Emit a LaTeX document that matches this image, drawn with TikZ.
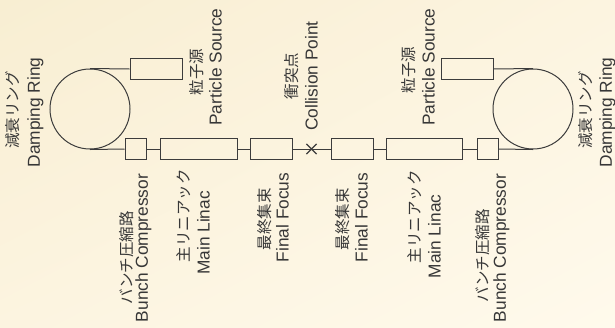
\documentclass[tikz,border=0pt]{standalone}
\usepackage{fontspec}
\setmainfont{Liberation Sans}
\newfontfamily\jpfont{Noto Sans CJK JP}
\usetikzlibrary{shapes.misc,shadings}
\definecolor{bgA}{RGB}{248,238,210}
\definecolor{bgB}{RGB}{252,244,224}
\definecolor{bgC}{RGB}{255,250,236}
\definecolor{linec}{RGB}{60,60,60}
\definecolor{textc}{RGB}{55,55,55}
\tikzset{
  wire/.style={draw=linec, line width=1bp},
  box/.style={draw=linec, line width=1bp, rectangle, inner sep=0pt, minimum height=21bp},
  ring/.style={draw=linec, line width=1bp, circle, inner sep=0pt, minimum size=80bp},
  cpmark/.style={draw=linec, line width=1.2bp, cross out, inner sep=0pt, minimum size=9bp},
  en/.style={rotate=90, inner sep=0pt, text=textc, font=\fontsize{17.3bp}{20bp}\selectfont},
  jp/.style={rotate=90, inner sep=0pt, text=textc, font=\jpfont\fontsize{15.5bp}{18bp}\selectfont}
}
\begin{document}
\begin{tikzpicture}[x=1bp,y=-1bp]
\shade[upper left=bgA, upper right=bgB, lower left=bgB, lower right=bgC] (0,0) rectangle (615,327);
\useasboundingbox (0,0) rectangle (615,327);
% components
\node[ring] (ringL) at (90,109) {};
\node[box, minimum width=52bp] (psL) at (156,69) {};
\node[box, minimum width=21bp] (bcL) at (135.5,149) {};
\node[box, minimum width=77bp] (mlL) at (198.5,149) {};
\node[box, minimum width=42bp] (ffL) at (271,149) {};
\node[cpmark] (cp) at (311.5,149) {};
\node[box, minimum width=42bp] (ffR) at (352,149) {};
\node[box, minimum width=76bp] (mlR) at (424.5,149) {};
\node[box, minimum width=21bp] (bcR) at (487.5,149) {};
\node[ring] (ringR) at (533,109) {};
\node[box, minimum width=52bp] (psR) at (467,69) {};
% connectors
\draw[wire] (ringL.north) -- (psL.west);
\draw[wire] (ringL.south) -- (bcL.west);
\draw[wire] (bcL.east) -- (mlL.west);
\draw[wire] (mlL.east) -- (ffL.west);
\draw[wire] (ffL.east) -- (ffR.west);
\draw[wire] (ffR.east) -- (mlR.west);
\draw[wire] (mlR.east) -- (bcR.west);
\draw[wire] (bcR.east) -- (ringR.south);
\draw[wire] (psR.east) -- (ringR.north);
% labels top
\node[jp] (tDRLj) at (12.5,110) {減衰リング};
\node[en] (tDRLe) at (35.5,112.5) {Damping Ring};
\node[jp] (tPSLj) at (196.5,72) {粒子源};
\node[en] (tPSLe) at (215.5,67) {Particle Source};
\node[jp] (tCPj) at (291.5,76) {衝突点};
\node[en] (tCPe) at (311.5,76) {Collision Point};
\node[jp] (tPSRj) at (408.5,70) {粒子源};
\node[en] (tPSRe) at (428.5,67) {Particle Source};
\node[jp] (tDRRj) at (585.5,110) {減衰リング};
\node[en] (tDRRe) at (607.5,112.5) {Damping Ring};
% labels bottom
\node[jp] (tBCLj) at (126.5,258) {バンチ圧縮路};
\node[en] (tBCLe) at (143.5,248) {Bunch Compressor};
\node[jp] (tMLLj) at (183.5,215.5) {主リニアック};
\node[en] (tMLLe) at (203.5,233) {Main Linac};
\node[jp] (tFFLj) at (264.5,219) {最終集束};
\node[en] (tFFLe) at (282.5,217.5) {Final Focus};
\node[jp] (tFFRj) at (342.5,219) {最終集束};
\node[en] (tFFRe) at (361.5,217.5) {Final Focus};
\node[jp] (tMLRj) at (414.5,216.5) {主リニアック};
\node[en] (tMLRe) at (434.5,236.5) {Main Linac};
\node[jp] (tBCRj) at (482.5,256) {バンチ圧縮路};
\node[en] (tBCRe) at (501.5,248) {Bunch Compressor};
\end{tikzpicture}
\end{document}
